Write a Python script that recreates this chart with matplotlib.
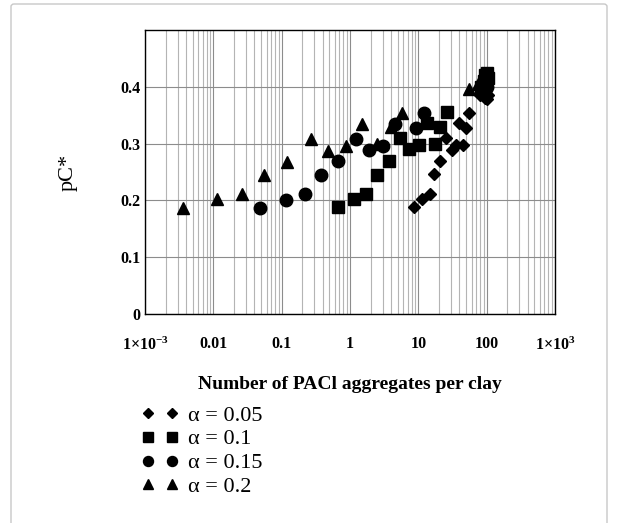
import matplotlib
matplotlib.use("Agg")
import matplotlib.pyplot as plt
from matplotlib.patches import FancyBboxPatch
from matplotlib.ticker import FixedLocator, LogLocator, NullFormatter

plt.rcParams['font.family'] = ['Liberation Serif', 'DejaVu Serif']
plt.rcParams['mathtext.fontset'] = 'custom'
plt.rcParams['mathtext.rm'] = 'Liberation Serif:bold'
plt.rcParams['mathtext.it'] = 'Liberation Serif:bold'
plt.rcParams['mathtext.bf'] = 'Liberation Serif:bold'

# datos
x_005 = [8.7, 11.5, 14.6, 17.0, 21.1, 25.3, 30.6, 35.1, 39.6, 45.4, 49.6, 55.6, 80, 88, 95, 100, 105]
y_005 = [0.188, 0.202, 0.212, 0.246, 0.270, 0.309, 0.289, 0.297, 0.336, 0.298, 0.327, 0.353, 0.385, 0.392, 0.380, 0.378, 0.386]

x_01 = [0.66, 1.15, 1.72, 2.49, 3.73, 5.47, 7.41, 10.4, 13.2, 17.4, 20.9, 26.1, 82, 90, 95, 100, 105]
y_01 = [0.188, 0.202, 0.212, 0.245, 0.270, 0.310, 0.290, 0.297, 0.336, 0.299, 0.329, 0.355, 0.400, 0.410, 0.420, 0.425, 0.415]

x_015 = [0.049, 0.116, 0.221, 0.38, 0.674, 1.21, 1.92, 3.05, 4.57, 9.29, 12.2, 85, 92, 98, 102]
y_015 = [0.187, 0.201, 0.211, 0.245, 0.270, 0.308, 0.288, 0.296, 0.335, 0.327, 0.354, 0.395, 0.405, 0.412, 0.400]

x_02 = [0.0036, 0.0115, 0.0264, 0.0555, 0.12, 0.265, 0.48, 0.88, 1.5, 2.52, 3.95, 5.73, 55.6, 75, 88, 95, 100]
y_02 = [0.187, 0.202, 0.211, 0.245, 0.268, 0.308, 0.287, 0.296, 0.334, 0.300, 0.330, 0.353, 0.396, 0.405, 0.415, 0.425, 0.395]

etiquetas = ['α = 0.05', 'α = 0.1', 'α = 0.15', 'α = 0.2']
xticks = [1e-3, 1e-2, 1e-1, 1, 10, 100, 1e3]
xticklabels = ['1×10$^{-3}$', '0.01', '0.1', '1', '10', '100', '1×10$^{3}$']
yticks = [0, 0.1, 0.2, 0.3, 0.4]
yticklabels = ['0', '0.1', '0.2', '0.3', '0.4']

fig = plt.figure(figsize=(6.18, 5.23), dpi=100)
ax = fig.add_axes([145 / 618, 1 - 314 / 523, 410 / 618, 284 / 523])

# marco gris alrededor
marco = FancyBboxPatch((11 / 618, -0.05), 596 / 618, 1 - 4 / 523 + 0.05,
                       boxstyle='round,pad=0,rounding_size=0.005',
                       transform=fig.transFigure, fill=False,
                       edgecolor='#c8c8c8', linewidth=1.0)
fig.add_artist(marco)

ax.plot(x_005, y_005, linestyle='none', marker='D', markersize=6.5, color='black', label=etiquetas[0])
ax.plot(x_01, y_01, linestyle='none', marker='s', markersize=8.5, color='black', label=etiquetas[1])
ax.plot(x_015, y_015, linestyle='none', marker='o', markersize=9, color='black', label=etiquetas[2])
ax.plot(x_02, y_02, linestyle='none', marker='^', markersize=9, color='black', label=etiquetas[3])

ax.set_xscale('log')
ax.set_xlim(1e-3, 1e3)
ax.set_ylim(0, 0.5)

ax.xaxis.set_major_locator(FixedLocator(xticks))
ax.set_xticklabels(xticklabels, fontweight='bold', fontsize=11.5)
ax.xaxis.set_minor_locator(LogLocator(base=10, subs=range(2, 10), numticks=20))
ax.xaxis.set_minor_formatter(NullFormatter())
ax.set_yticks(yticks)
ax.set_yticklabels(yticklabels, fontweight='bold', fontsize=11.5)

ax.tick_params(axis='both', which='both', length=0)
ax.tick_params(axis='x', pad=16)
ax.tick_params(axis='y', pad=3)

ax.grid(True, which='major', color='#8c8c8c', linewidth=0.8)
ax.grid(True, which='minor', axis='x', color='#b4b4b4', linewidth=0.8)
ax.set_axisbelow(True)
for s in ax.spines.values():
    s.set_color('black')
    s.set_linewidth(1.0)

ax.set_ylabel('pC*', fontsize=16)
ax.yaxis.set_label_coords(-0.165, 0.5)
ax.set_xlabel('Number of PACl aggregates per clay', fontsize=14, fontweight='bold')
ax.xaxis.set_label_coords(0.5, -0.22)

leg = fig.legend(loc='upper left', bbox_to_anchor=(141 / 618, 1 - 405 / 523),
                 frameon=False, numpoints=2, handlelength=1.7, handletextpad=0.4,
                 labelspacing=0.15, borderpad=0, borderaxespad=0, fontsize=16,
                 markerscale=0.8)

fig.savefig('out.png', dpi=100)
